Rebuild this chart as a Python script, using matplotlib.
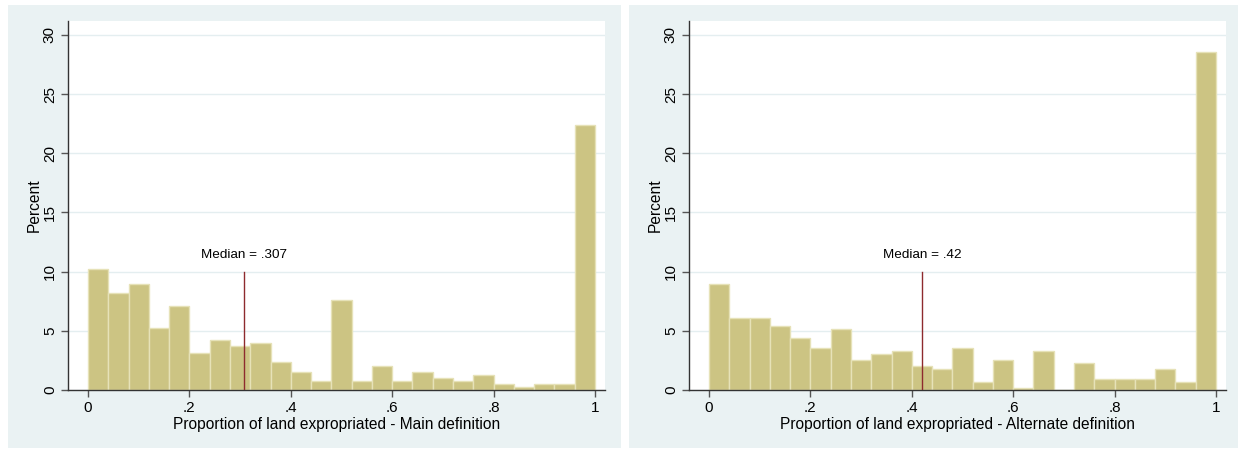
import matplotlib
matplotlib.use("Agg")
import matplotlib.pyplot as plt
from matplotlib.patches import Rectangle
import numpy as np

plt.rcParams['font.family'] = ['Liberation Sans', 'DejaVu Sans']

bin_edges = [i * 0.04 for i in range(26)]

main_pct = [10.25, 8.16, 8.98, 5.24, 7.14, 3.14, 4.19, 3.68, 3.94, 2.35,
            1.56, 0.76, 7.62, 0.76, 2.07, 0.76, 1.56, 1.02, 0.76, 1.27,
            0.48, 0.23, 0.48, 0.48, 22.4]
alt_pct = [8.98, 6.12, 6.12, 5.38, 4.36, 3.57, 5.13, 2.55, 3.06, 3.31,
           2.01, 1.76, 3.57, 0.71, 2.52, 0.20, 3.31, 0.0, 2.27, 0.96,
           0.96, 0.96, 1.76, 0.71, 28.6]

medians = [0.307, 0.42]
median_labels = ["Median = .307", "Median = .42"]
xlabels = ["Proportion of land expropriated - Main definition",
           "Proportion of land expropriated - Alternate definition"]
xticks = [0, 0.2, 0.4, 0.6, 0.8, 1.0]
xticklabels = ["0", ".2", ".4", ".6", ".8", "1"]
yticks = [0, 5, 10, 15, 20, 25, 30]

W, H = 1238, 449
fig = plt.figure(figsize=(W / 100, H / 100), dpi=100)
fig.patch.set_facecolor('white')

BG = '#EAF2F3'
BAR = '#CCC483'
EDGE = '#E6E2B8'
RED = '#8E2A2E'

panels = [(8, 621), (629, 1238)]
axes_x = [(68, 605), (689, 1226)]

for k, (data, med, mlab, xl) in enumerate(zip([main_pct, alt_pct], medians, median_labels, xlabels)):
    px0, px1 = panels[k]
    rect = Rectangle((px0 / W, 1 - 448 / H), (px1 - px0) / W, (448 - 5) / H,
                     transform=fig.transFigure, facecolor=BG, edgecolor='none', zorder=-10)
    fig.add_artist(rect)
    ax0, ax1 = axes_x[k]
    ax = fig.add_axes([ax0 / W, 1 - 390 / H, (ax1 - ax0) / W, (390 - 21) / H])
    ax.set_zorder(1)
    ax.set_facecolor('white')
    widths = np.diff(bin_edges)
    ax.bar(bin_edges[:-1], data, width=widths, align='edge', color=BAR,
           edgecolor=EDGE, linewidth=1.0, zorder=2)
    ax.set_xlim(-0.0394, 1.0197)
    ax.set_ylim(0, 31.18)
    for y in yticks:
        ax.axhline(y, color='#E4EEF0', linewidth=1.0, zorder=1)
    ax.plot([med, med], [0, 10], color=RED, linewidth=1.0, zorder=3)
    ax.text(med, 11.4, mlab, ha='center', va='center', fontsize=9.7, color='black', zorder=4)
    for s in ['top', 'right']:
        ax.spines[s].set_visible(False)
    for s in ['left', 'bottom']:
        ax.spines[s].set_color('#333333')
        ax.spines[s].set_linewidth(1.0)
    ax.set_xticks(xticks)
    ax.set_xticklabels(xticklabels, fontsize=11)
    ax.set_yticks(yticks)
    ax.set_yticklabels([str(y) for y in yticks], fontsize=11, rotation=90, va='center')
    ax.tick_params(axis='both', length=5, width=1, color='#555555', pad=3)
    ax.set_xlabel(xl, fontsize=11.2, labelpad=1)
    ax.set_ylabel("Percent", fontsize=11.2, labelpad=1)

fig.savefig('out.png', dpi=100, facecolor=fig.get_facecolor())
